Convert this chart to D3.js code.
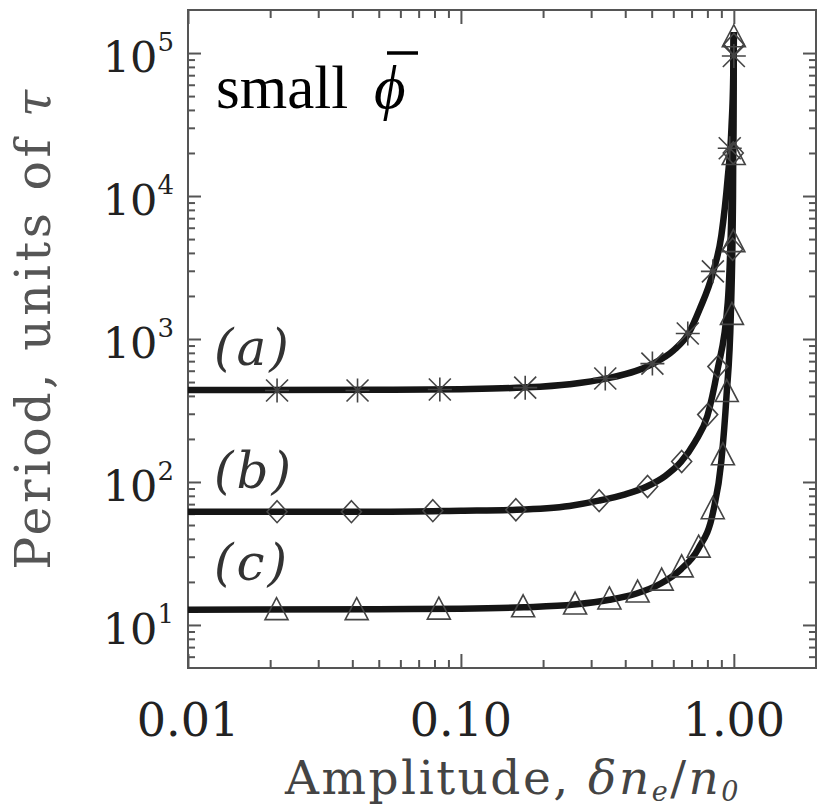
<!DOCTYPE html>
<html>
<head>
<meta charset="utf-8">
<script src="https://cdn.jsdelivr.net/npm/d3@7"></script>
<style>
  body { margin: 0; background: #fff; }
  svg { display: block; }
</style>
</head>
<body>
<div id="graph"></div>
<script>
// axis ticks
var xMajor = [0.01, 0.1, 1];
var xLabels = ["0.01", "0.10", "1.00"];
var yMajor = [10, 100, 1000, 10000, 100000];
var yExp = ["1", "2", "3", "4", "5"];

// measured points, (a) asterisks
var ampA = [0.0212, 0.0418, 0.0837, 0.172, 0.338, 0.503, 0.678, 0.838, 0.966, 1.0];
var perA = [436, 436, 443, 457, 529, 673, 1093, 2972, 21600, 95300];
// (b) diamonds
var ampB = [0.0212, 0.0397, 0.0789, 0.159, 0.321, 0.483, 0.644, 0.802, 0.874, 0.99, 0.995, 1.0];
var perB = [62, 62, 63, 64, 74, 93, 139, 296, 641, 4240, 20000, 115000];
// (c) triangles
var ampC = [0.0211, 0.0415, 0.083, 0.169, 0.262, 0.35, 0.444, 0.544, 0.644, 0.743, 0.837, 0.912, 0.942, 0.984, 0.996, 0.999, 1.0];
var perC = [12.8, 12.8, 12.9, 13.4, 14.0, 15.2, 17, 20.6, 25.5, 35, 65, 155, 429, 1486, 4800, 19500, 130000];

// model curves
var curveAmpA = [0.01, 0.05, 0.1, 0.17, 0.25, 0.34, 0.5, 0.6, 0.68, 0.75, 0.84, 0.9, 0.95, 0.98, 0.995, 1.0];
var curvePerA = [440, 441, 446, 458, 483, 528, 665, 830, 1080, 1620, 2950, 5300, 13500, 30000, 70000, 140000];
var curveAmpB = [0.01, 0.05, 0.1, 0.16, 0.25, 0.32, 0.4, 0.48, 0.56, 0.64, 0.72, 0.8, 0.87, 0.95, 0.98, 0.995, 1.0];
var curvePerB = [62, 62, 63, 64, 68, 74, 82, 93, 110, 138, 190, 290, 600, 1800, 8000, 30000, 140000];
var curveAmpC = [0.01, 0.05, 0.1, 0.17, 0.26, 0.35, 0.44, 0.54, 0.64, 0.74, 0.84, 0.9, 0.94, 0.975, 0.993, 1.0];
var curvePerC = [12.8, 12.9, 13.0, 13.3, 13.9, 15.0, 16.6, 19.5, 24.5, 34, 62, 140, 400, 1500, 10000, 140000];

var seriesNames = ["(a)", "(b)", "(c)"];

var W = 817, H = 808;
var pL = 188, pR = 816, pT = 10, pB = 668;

var svg = d3.select("#graph").append("svg").attr("width", W).attr("height", H);

var x = d3.scaleLog().domain([0.01, 2]).range([pL, pR]);
var y = d3.scaleLog().domain([5, 2e5]).range([pB, pT]);

var frameCol = "#555";

// minor ticks, 2..9 of each decade
var xMinor = [], yMinor = [];
[0.01, 0.1, 1].forEach(function(d) {
    for (var k = 2; k < 10; k++) if (d * k < 2) xMinor.push(d * k);
});
[1, 10, 100, 1000, 10000, 100000].forEach(function(d) {
    for (var k = 2; k < 10; k++) if (d * k > 5 && d * k < 2e5) yMinor.push(d * k);
});

function tickAxis(g, axis) {
    g.call(axis);
    g.select(".domain").remove();
    g.selectAll("text").remove();
    g.selectAll("line").attr("stroke", frameCol).attr("stroke-width", 2);
}

svg.append("g").attr("transform", "translate(0," + pB + ")")
    .call(tickAxis, d3.axisBottom(x).tickValues(xMajor).tickSize(-14));
svg.append("g").attr("transform", "translate(0," + pB + ")")
    .call(tickAxis, d3.axisBottom(x).tickValues(xMinor).tickSize(-8));
svg.append("g").attr("transform", "translate(0," + pT + ")")
    .call(tickAxis, d3.axisTop(x).tickValues(xMajor).tickSize(-14));
svg.append("g").attr("transform", "translate(0," + pT + ")")
    .call(tickAxis, d3.axisTop(x).tickValues(xMinor).tickSize(-8));
svg.append("g").attr("transform", "translate(" + pL + ",0)")
    .call(tickAxis, d3.axisLeft(y).tickValues(yMajor).tickSize(-13));
svg.append("g").attr("transform", "translate(" + pL + ",0)")
    .call(tickAxis, d3.axisLeft(y).tickValues(yMinor).tickSize(-7));
svg.append("g").attr("transform", "translate(" + pR + ",0)")
    .call(tickAxis, d3.axisRight(y).tickValues(yMajor).tickSize(-13));
svg.append("g").attr("transform", "translate(" + pR + ",0)")
    .call(tickAxis, d3.axisRight(y).tickValues(yMinor).tickSize(-7));

svg.append("rect")
    .attr("x", pL).attr("y", pT)
    .attr("width", pR - pL).attr("height", pB - pT)
    .attr("fill", "none").attr("stroke", frameCol).attr("stroke-width", 2);

// tick labels
var serif = "'DejaVu Serif', serif";
svg.selectAll("xlab").data(xMajor).enter().append("text")
    .attr("x", function(d) { return x(d); })
    .attr("y", 736)
    .attr("text-anchor", "middle")
    .style("font-family", serif).style("font-size", "46px").style("fill", "#222")
    .text(function(d, i) { return xLabels[i]; });

var ylab = svg.selectAll("ylab").data(yMajor).enter().append("text")
    .attr("x", 174)
    .attr("y", function(d) { return y(d) + 19; })
    .attr("text-anchor", "end")
    .style("font-family", serif).style("fill", "#222");
ylab.append("tspan").style("font-size", "43px").text("10");
ylab.append("tspan").style("font-size", "26px").attr("dy", -21)
    .text(function(d, i) { return yExp[i]; });

// axis titles
var yt = svg.append("text")
    .attr("transform", "translate(50,328) rotate(-90)")
    .attr("text-anchor", "middle")
    .style("font-family", serif).style("font-size", "49px")
    .style("letter-spacing", "3.5px").style("fill", "#555");
yt.append("tspan").text("Period, units of ");
yt.append("tspan").style("font-style", "italic").text("τ");

var xt = svg.append("text")
    .attr("x", 513).attr("y", 794)
    .attr("text-anchor", "middle")
    .style("font-family", serif).style("font-size", "47px")
    .style("letter-spacing", "2.5px").style("fill", "#444");
xt.append("tspan").text("Amplitude, ");
xt.append("tspan").style("font-style", "italic").text("δn");
xt.append("tspan").style("font-style", "italic").style("font-size", "27px").attr("dy", 7).text("e");
xt.append("tspan").attr("dy", -7).text("/");
xt.append("tspan").style("font-style", "italic").text("n");
xt.append("tspan").style("font-style", "italic").style("font-size", "27px").attr("dy", 7).text("0");

// curves
var line = d3.line()
    .x(function(d) { return x(d[0]); })
    .y(function(d) { return y(d[1]); })
    .curve(d3.curveMonotoneX);

[[curveAmpA, curvePerA], [curveAmpB, curvePerB], [curveAmpC, curvePerC]].forEach(function(c) {
    svg.append("path")
        .datum(d3.zip(c[0], c[1]))
        .attr("d", line)
        .attr("fill", "none")
        .attr("stroke", "#151515")
        .attr("stroke-width", 6.5)
        .attr("stroke-linejoin", "round");
});

// markers
var mk = "#444";
svg.selectAll("ast").data(d3.zip(ampA, perA)).enter().append("path")
    .attr("transform", function(d) { return "translate(" + x(d[0]) + "," + y(d[1]) + ")"; })
    .attr("d", "M-12,0H12M0,-12V12M-11,-11L11,11M-11,11L11,-11")
    .attr("fill", "none").attr("stroke", mk).attr("stroke-width", 1.6);

svg.selectAll("dia").data(d3.zip(ampB, perB)).enter().append("path")
    .attr("transform", function(d) { return "translate(" + x(d[0]) + "," + y(d[1]) + ")"; })
    .attr("d", "M0,-11L10,0L0,11L-10,0Z")
    .attr("fill", "none").attr("stroke", mk).attr("stroke-width", 1.6);

svg.selectAll("tri").data(d3.zip(ampC, perC)).enter().append("path")
    .attr("transform", function(d) { return "translate(" + x(d[0]) + "," + y(d[1]) + ")"; })
    .attr("d", "M0,-12L11.5,10H-11.5Z")
    .attr("fill", "none").attr("stroke", mk).attr("stroke-width", 1.6);

// series labels
var labY = [365, 488, 580];
svg.selectAll("slab").data(seriesNames).enter().append("text")
    .attr("x", 214)
    .attr("y", function(d, i) { return labY[i]; })
    .style("font-family", serif).style("font-style", "italic")
    .style("font-size", "50px").style("letter-spacing", "3px").style("fill", "#333")
    .text(function(d) { return d; });

// annotation
var timesF = "'Liberation Serif', 'Times New Roman', serif";
svg.append("text")
    .attr("x", 216).attr("y", 108)
    .style("font-family", timesF)
    .style("font-size", "61px").style("fill", "#000")
    .text("small");
svg.append("text")
    .attr("x", 374).attr("y", 108)
    .style("font-family", timesF).style("font-style", "italic")
    .style("font-size", "61px").style("fill", "#000")
    .text("ϕ");
svg.append("line")
    .attr("x1", 387).attr("x2", 418)
    .attr("y1", 53).attr("y2", 53)
    .attr("stroke", "#000").attr("stroke-width", 3.5);
</script>
</body>
</html>
